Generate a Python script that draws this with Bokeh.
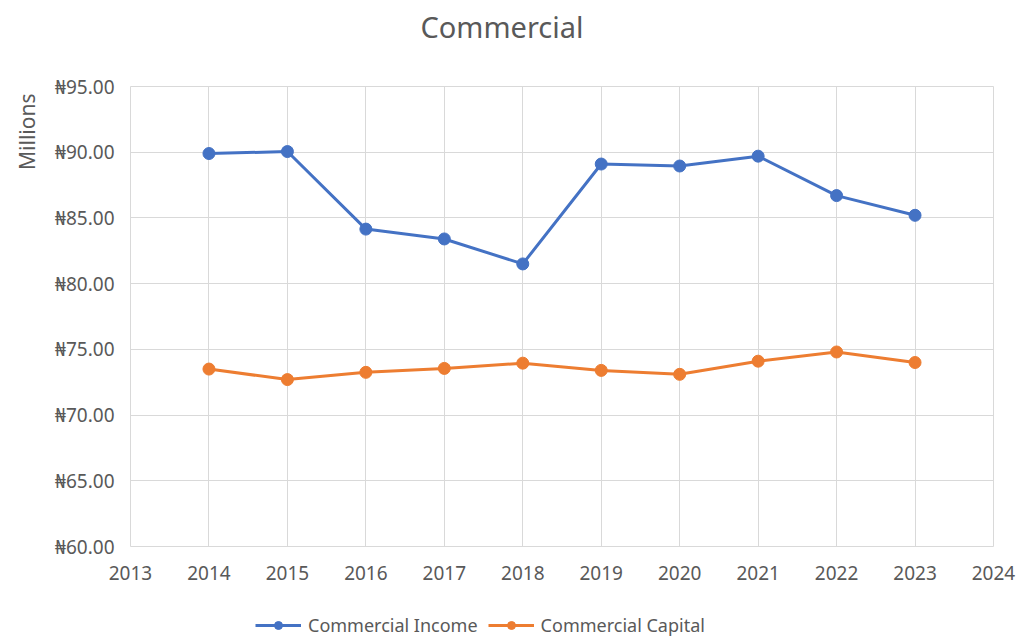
from bokeh.plotting import figure
from bokeh.layouts import column
from bokeh.models import (FixedTicker, PrintfTickFormatter, Range1d, Legend, LegendItem, Title)
from bokeh.embed import file_html
from bokeh.resources import INLINE

years = [2014, 2015, 2016, 2017, 2018, 2019, 2020, 2021, 2022, 2023]
commercial_income = [89.9, 90.05, 84.15, 83.4, 81.5, 89.1, 88.95, 89.7, 86.7, 85.2]
commercial_capital = [73.5, 72.7, 73.25, 73.55, 73.95, 73.4, 73.1, 74.1, 74.8, 74.0]
x_ticks = list(range(2013, 2025))
y_ticks = [60, 65, 70, 75, 80, 85, 90, 95]
series_names = ["Commercial Income", "Commercial Capital"]

FONT = "Noto Sans"
GRAY = "#595959"
GRID = "#d9d9d9"
BLUE = "#4472C4"
ORANGE = "#ED7D31"

# ---- title strip ----
tf = figure(width=1021, height=56, output_backend="svg", toolbar_location=None,
            x_range=Range1d(0, 1), y_range=Range1d(0, 1),
            x_axis_location=None, y_axis_location=None,
            min_border_top=45, min_border_bottom=0, min_border_left=130, min_border_right=28)
tf.outline_line_color = None
tf.xgrid.visible = False
tf.ygrid.visible = False
tf.title.text = "Commercial"
tf.title.text_font = FONT
tf.title.text_font_size = "29px"
tf.title.text_font_style = "normal"
tf.title.text_color = GRAY
tf.title.align = "left"
tf.title.offset = 290
tf.title.standoff = 0

# ---- main chart ----
p = figure(width=1021, height=544, output_backend="svg", toolbar_location=None,
           x_range=Range1d(2013, 2024), y_range=Range1d(60, 95),
           min_border_left=130, min_border_right=28, min_border_top=30, min_border_bottom=54)
p.outline_line_color = GRID
p.background_fill_color = "white"
p.border_fill_color = "white"

p.xaxis.ticker = FixedTicker(ticks=x_ticks)
p.yaxis.ticker = FixedTicker(ticks=y_ticks)
p.yaxis.formatter = PrintfTickFormatter(format="\u20a6%.2f")
for ax in (p.xaxis[0], p.yaxis[0]):
    ax.axis_line_color = None
    ax.major_tick_line_color = None
    ax.minor_tick_line_color = None
    ax.major_label_text_font = FONT
    ax.major_label_text_font_size = "19px"
    ax.major_label_text_color = GRAY
p.xaxis.major_label_standoff = 13
p.yaxis.major_label_standoff = 10

ytitle = Title(text="Millions", align="right", vertical_align="top", offset=7, standoff=20,
               text_font=FONT, text_font_size="21px", text_font_style="normal",
               text_color=GRAY)
p.add_layout(ytitle, "left")

p.xgrid.grid_line_color = GRID
p.ygrid.grid_line_color = GRID

p.line(years, commercial_income, line_color=BLUE, line_width=3)
p.scatter(years, commercial_income, size=12, fill_color=BLUE, line_color=BLUE)
p.line(years, commercial_capital, line_color=ORANGE, line_width=3)
p.scatter(years, commercial_capital, size=12, fill_color=ORANGE, line_color=ORANGE)

# ---- legend strip (its series lie outside its view; only the legend shows) ----
lf = figure(width=1021, height=37, output_backend="svg", toolbar_location=None,
            x_range=Range1d(0, 1), y_range=Range1d(0, 1),
            x_axis_location=None, y_axis_location=None,
            min_border_top=0, min_border_bottom=0, min_border_left=130, min_border_right=28)
lf.outline_line_color = None
lf.xgrid.visible = False
lf.ygrid.visible = False
l1 = lf.line(years, commercial_income, line_color=BLUE, line_width=3)
m1 = lf.scatter(years, commercial_income, size=12, fill_color=BLUE, line_color=BLUE)
l2 = lf.line(years, commercial_capital, line_color=ORANGE, line_width=3)
m2 = lf.scatter(years, commercial_capital, size=12, fill_color=ORANGE, line_color=ORANGE)
legend = Legend(items=[LegendItem(label=series_names[0], renderers=[l1, m1]),
                       LegendItem(label=series_names[1], renderers=[l2, m2])],
                orientation="horizontal", location=(125, 0),
                label_text_font=FONT, label_text_font_size="18px", label_text_color=GRAY,
                border_line_color=None, background_fill_alpha=0,
                glyph_width=46, label_standoff=7, spacing=10, padding=0, margin=0)
lf.add_layout(legend)

layout = column(tf, p, lf, spacing=0)
open("out.html", "w").write(file_html(layout, INLINE))
